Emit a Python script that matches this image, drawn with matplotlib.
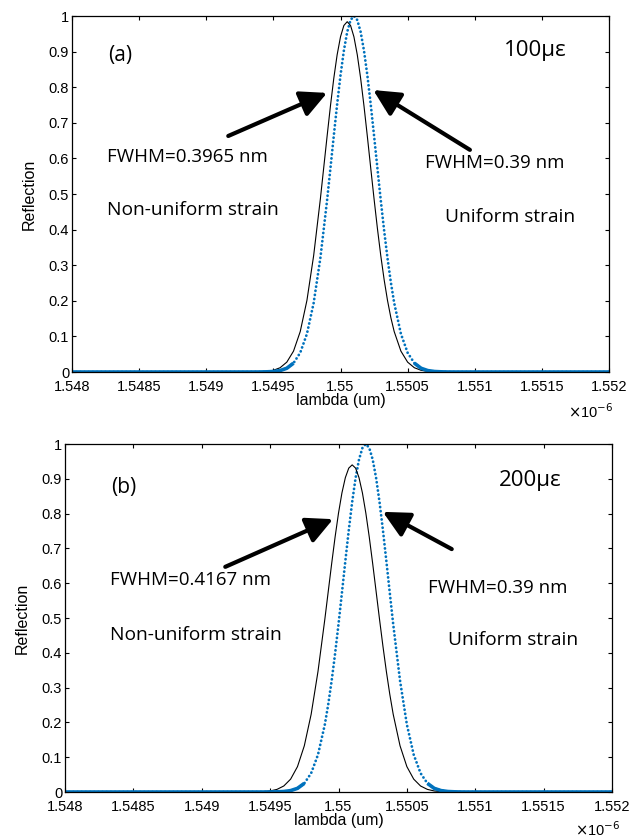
import numpy as np
import matplotlib
matplotlib.use("Agg")
from matplotlib import pyplot as plt

# wavelength samples (um), finer around the peaks
lam = [1.548,
       1.5493, 1.54935, 1.5494, 1.54945, 1.5495, 1.54955, 1.5496, 1.54965, 1.5497, 1.54975, 1.5498, 1.54985,
       1.5499, 1.549925, 1.54995, 1.549975, 1.55, 1.550025, 1.55005, 1.550075, 1.5501, 1.550125, 1.55015,
       1.550175, 1.5502, 1.550225, 1.55025, 1.550275, 1.5503, 1.550325, 1.55035, 1.550375, 1.5504,
       1.55045, 1.5505, 1.55055, 1.5506, 1.55065, 1.5507, 1.55075, 1.5508, 1.55085, 1.5509, 1.55095, 1.551,
       1.552]

# (a) 100 microstrain
nonuni_a = [0,
            0.0000, 0.0002, 0.0006, 0.0018, 0.0048, 0.0120, 0.0277, 0.0586, 0.1135, 0.2013, 0.3269, 0.4861,
            0.6618, 0.7471, 0.8250, 0.8911, 0.9416, 0.9733, 0.984, 0.9733, 0.9416, 0.8911, 0.8250,
            0.7471, 0.6618, 0.5735, 0.4861, 0.4031, 0.3269, 0.2594, 0.2013, 0.1528, 0.1135,
            0.0586, 0.0277, 0.0120, 0.0048, 0.0018, 0.0006, 0.0002, 0, 0, 0, 0, 0,
            0]
uni_a = [0,
         0, 0, 0.0001, 0.0005, 0.0014, 0.0040, 0.0105, 0.0249, 0.0541, 0.1072, 0.1938, 0.3200,
         0.4822, 0.5722, 0.6635, 0.7521, 0.8334, 0.9025, 0.9554, 0.9887, 1.0, 0.9887, 0.9554,
         0.9025, 0.8334, 0.7521, 0.6635, 0.5722, 0.4822, 0.3974, 0.3200, 0.2520, 0.1938,
         0.1072, 0.0541, 0.0249, 0.0105, 0.0040, 0.0014, 0.0005, 0.0001, 0, 0, 0, 0,
         0]

# (b) 200 microstrain
nonuni_b = [0,
            0.0000, 0.0001, 0.0004, 0.0011, 0.0030, 0.0075, 0.0173, 0.0370, 0.0729, 0.1328, 0.2233, 0.3464,
            0.4962, 0.5763, 0.6562, 0.7324, 0.8013, 0.8593, 0.9032, 0.9307, 0.94, 0.9307, 0.9032,
            0.8593, 0.8013, 0.7324, 0.6562, 0.5763, 0.4962, 0.4188, 0.3464, 0.2809, 0.2233,
            0.1328, 0.0729, 0.0370, 0.0173, 0.0075, 0.0030, 0.0011, 0.0004, 0.0001, 0, 0, 0,
            0]
uni_b = [0,
         0, 0, 0, 0, 0.0001, 0.0005, 0.0014, 0.0040, 0.0105, 0.0249, 0.0541, 0.1072,
         0.1938, 0.2520, 0.3200, 0.3974, 0.4822, 0.5722, 0.6635, 0.7521, 0.8334, 0.9025, 0.9554,
         0.9887, 1.0, 0.9887, 0.9554, 0.9025, 0.8334, 0.7521, 0.6635, 0.5722, 0.4822,
         0.3200, 0.1938, 0.1072, 0.0541, 0.0249, 0.0105, 0.0040, 0.0014, 0.0005, 0.0001, 0, 0,
         0]

xticks = [1.548, 1.5485, 1.549, 1.5495, 1.55, 1.5505, 1.551, 1.5515, 1.552]
xticklabels = ['1.548', '1.5485', '1.549', '1.5495', '1.55', '1.5505', '1.551', '1.5515', '1.552']
yticks = [0, 0.1, 0.2, 0.3, 0.4, 0.5, 0.6, 0.7, 0.8, 0.9, 1]
yticklabels = ['0', '0.1', '0.2', '0.3', '0.4', '0.5', '0.6', '0.7', '0.8', '0.9', '1']

blue = '#0072BD'
tick_font = 'Liberation Sans'
note_font = 'Open Sans'

fig = plt.figure(figsize=(6.41, 8.39), dpi=100)


def panel(rect, y_nonuni, y_uni, tag, strain, fwhm_nu, notes):
    ax = fig.add_axes(rect)
    x = np.array(lam)
    yn = np.array(y_nonuni)
    yu = np.array(y_uni)
    ax.plot(x, yu, color=blue, lw=2.0, linestyle=(0, (0.05, 1.45)), dash_capstyle='round')
    ax.plot(x, yn, color='black', lw=0.8)
    # the dense marker trace looks solid where it is flat
    ax.plot(x, np.where(yu <= 0.03, yu, np.nan), color=blue, lw=2.6, solid_capstyle='butt')
    ax.set_xlim(1.548, 1.552)
    ax.set_ylim(0, 1)
    ax.set_xticks(xticks)
    ax.set_xticklabels(xticklabels, fontsize=10.5, family=tick_font)
    ax.set_yticks(yticks)
    ax.set_yticklabels(yticklabels, fontsize=10.5, family=tick_font)
    ax.tick_params(direction='in', top=True, right=True, length=3, width=0.8, pad=2)
    ax.tick_params(axis='x', pad=6)
    for s in ax.spines.values():
        s.set_linewidth(0.9)
    ax.set_xlabel('lambda (um)', fontsize=11.5, family=tick_font, labelpad=-1)
    ax.set_ylabel('Reflection', fontsize=11.5, family=tick_font, labelpad=9)
    ax.text(notes['x6'][0], notes['x6'][1], r'$\times$10$^{-6}$', transform=ax.transAxes,
            fontsize=10.5, family=tick_font, ha='center', va='center')

    ax.text(notes['tag'][0], notes['tag'][1], tag, transform=ax.transAxes, fontsize=15,
            family=note_font, ha='center', va='center')
    ax.text(notes['strain'][0], notes['strain'][1], strain, transform=ax.transAxes,
            fontsize=16, family=note_font, ha='center', va='center')
    ax.text(notes['f1'][0], notes['f1'][1], 'FWHM=' + fwhm_nu + ' nm', transform=ax.transAxes,
            fontsize=13.5, family=note_font, ha='left', va='center')
    ax.text(notes['n1'][0], notes['n1'][1], 'Non-uniform strain', transform=ax.transAxes,
            fontsize=13.8, family=note_font, ha='left', va='center')
    ax.text(notes['f2'][0], notes['f2'][1], 'FWHM=0.39 nm', transform=ax.transAxes,
            fontsize=13.5, family=note_font, ha='left', va='center')
    ax.text(notes['n2'][0], notes['n2'][1], 'Uniform strain', transform=ax.transAxes,
            fontsize=13.8, family=note_font, ha='left', va='center')
    arrow = dict(arrowstyle='-|>,head_length=0.8,head_width=0.4', lw=3, color='black',
                 mutation_scale=20, shrinkA=0, shrinkB=0)
    for tail, head in notes['arrows']:
        ax.annotate('', xy=head, xytext=tail, xycoords='axes fraction',
                    textcoords='axes fraction', arrowprops=arrow)
    return ax


panel([72 / 641, 1 - 372 / 839, 537 / 641, 356 / 839], nonuni_a, uni_a, '(a)', '100\u03bc\u03b5', '0.3965',
      dict(x6=(0.965, -0.11), tag=(0.089, 0.890), strain=(0.862, 0.904), f1=(0.065, 0.604),
           n1=(0.065, 0.455), f2=(0.657, 0.587), n2=(0.695, 0.435),
           arrows=[((0.291, 0.663), (0.475, 0.784)), ((0.741, 0.624), (0.561, 0.792))]))

panel([65 / 641, 1 - 792 / 839, 547 / 641, 348 / 839], nonuni_b, uni_b, '(b)', '200\u03bc\u03b5', '0.4167',
      dict(x6=(0.973, -0.109), tag=(0.108, 0.874), strain=(0.850, 0.894), f1=(0.082, 0.609),
           n1=(0.082, 0.451), f2=(0.664, 0.586), n2=(0.700, 0.437),
           arrows=[((0.293, 0.647), (0.490, 0.784)), ((0.707, 0.698), (0.581, 0.805))]))

fig.savefig('out.png', dpi=100)
